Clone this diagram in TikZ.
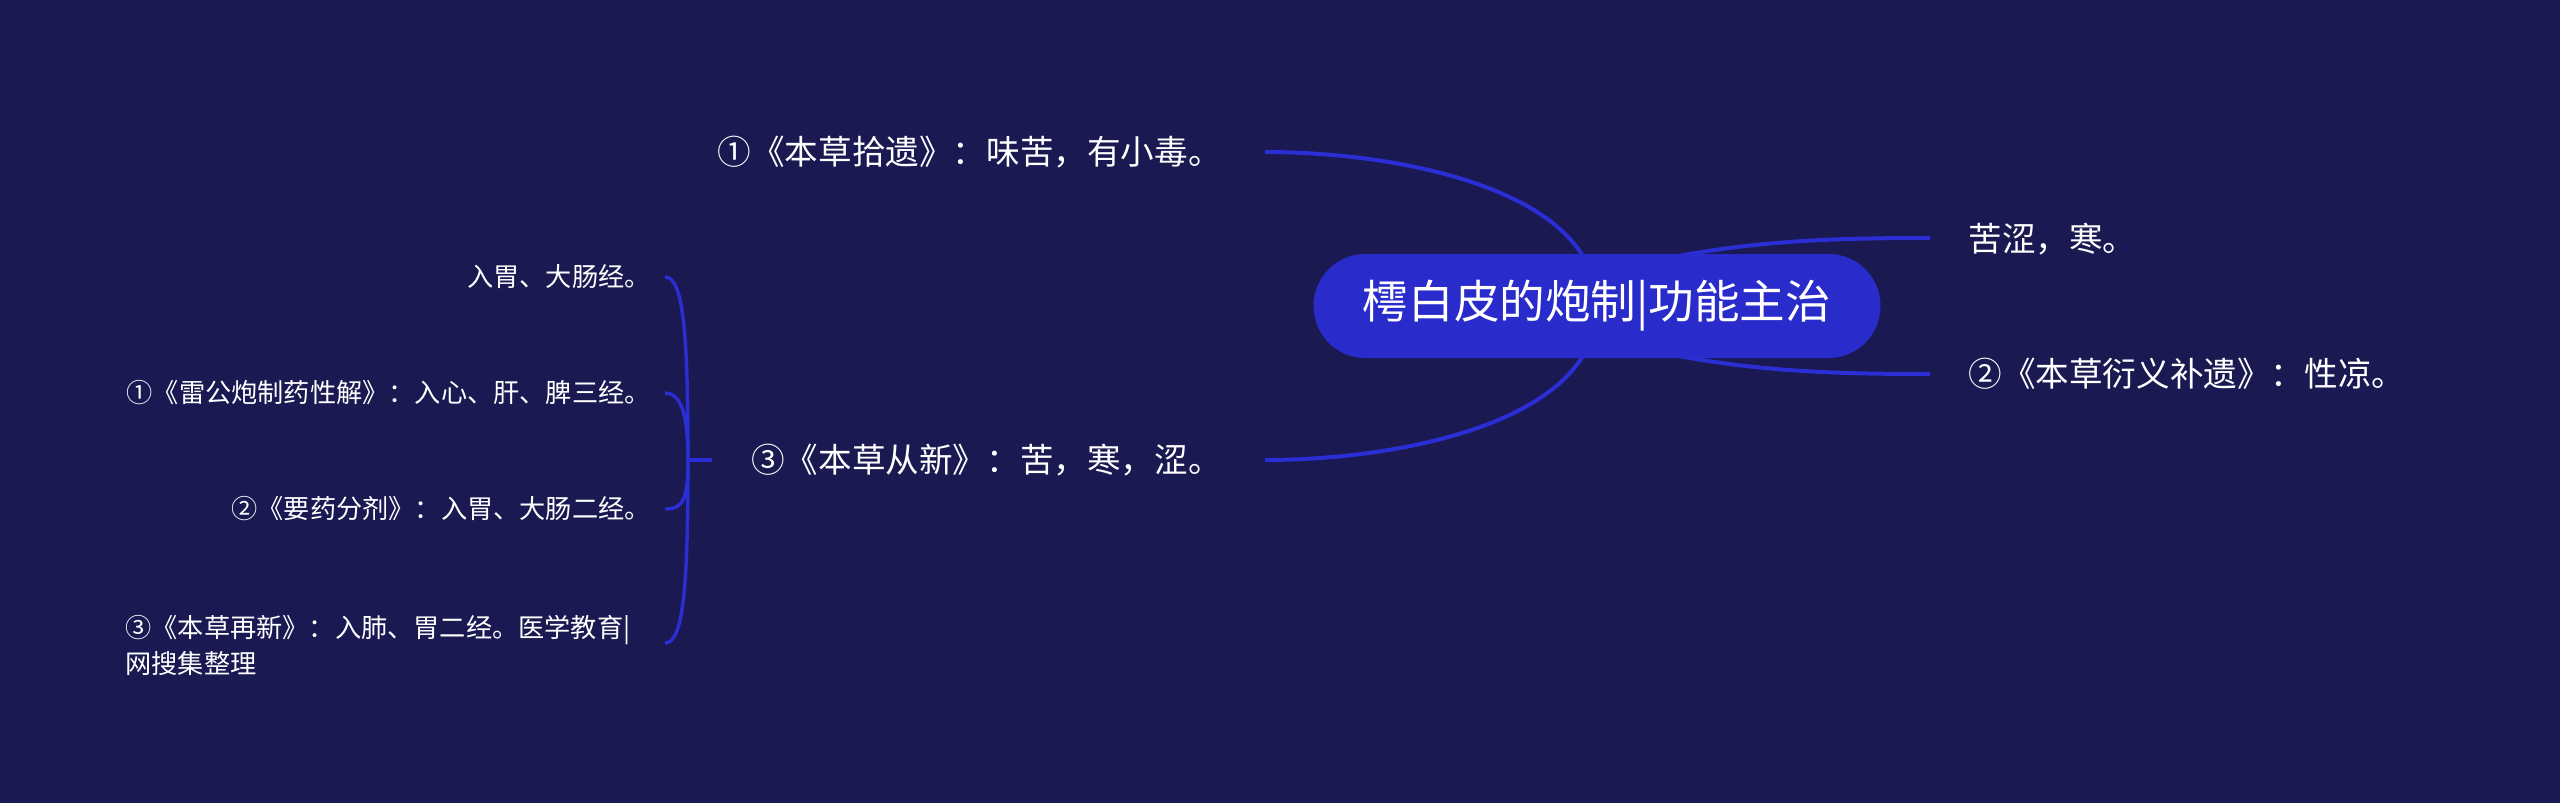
\documentclass[tikz,border=0pt]{standalone}
\usepackage{fontspec}
\setmainfont{Noto Sans CJK SC}
\usetikzlibrary{calc}
\definecolor{bgc}{HTML}{1A1952}
\definecolor{nodefill}{HTML}{2A2BCB}
\definecolor{linec}{HTML}{2B2ED4}
\pgfdeclarelayer{back}
\pgfdeclarelayer{mid}
\pgfsetlayers{back,mid,main}
\begin{document}
\begin{tikzpicture}[x=0.5pt,y=-0.5pt,
  conn/.style={draw=linec,line width=2pt},
  brk/.style={draw=linec,line width=1.7pt},
  rootbox/.style={fill=nodefill,rounded corners=25.9pt,minimum width=283.5pt,minimum height=52pt,text=white,font=\fontsize{22.8pt}{26pt}\selectfont,inner sep=0pt},
  midtext/.style={text=white,font=\fontsize{16.8pt}{20pt}\selectfont,inner sep=0pt},
  smalltext/.style={text=white,font=\fontsize{13.1pt}{18pt}\selectfont,inner sep=0pt,align=left},
]
\begin{pgfonlayer}{back}
\fill[bgc] (0,0) rectangle (2560,803);
\end{pgfonlayer}
\useasboundingbox (0,0) rectangle (2560,803);

% nodes
\node[rootbox] (root) at (1597,306) {樗白皮的炮制|功能主治};
\node[midtext,anchor=west] (r1) at (1968,239) {苦涩，寒。};
\node[midtext,anchor=west] (r2) at (1968,374) {②《本草衍义补遗》：性凉。};
\node[midtext,anchor=east] (l1) at (1222,152) {①《本草拾遗》：味苦，有小毒。};
\node[midtext,anchor=east] (l2) at (1222,460) {③《本草从新》：苦，寒，涩。};
\node[smalltext,anchor=east] (s1) at (651,277) {入胃、大肠经。};
\node[smalltext,anchor=east] (s2) at (651,393) {①《雷公炮制药性解》：入心、肝、脾三经。};
\node[smalltext,anchor=east] (s3) at (651,509) {②《要药分剂》：入胃、大肠二经。};
\node[smalltext,anchor=west] (s4) at (125,645) {③《本草再新》：入肺、胃二经。医学教育|\\网搜集整理};

% connector end points
\coordinate (ru) at (1668,258);
\coordinate (rd) at (1668,354);
\coordinate (r1e) at (1930,238);
\coordinate (r2e) at (1930,374);
\coordinate (l1e) at (1265,152);
\coordinate (l2e) at (1265,460);
\coordinate (j) at (688,460);
\coordinate (stub) at (712,460);
\coordinate (s1e) at (665,277);
\coordinate (s2e) at (665,393);
\coordinate (s3e) at (665,509);
\coordinate (s4e) at (665,643);

\begin{pgfonlayer}{mid}
\draw[conn] (ru) .. controls (1760,240) and (1840,238) .. (r1e);
\draw[conn] (rd) .. controls (1760,372) and (1840,374) .. (r2e);
\draw[conn] (root.center) .. controls (1597,190) and (1400,152) .. (l1e);
\draw[conn] (root.center) .. controls (1597,422) and (1400,460) .. (l2e);
\draw[brk] (j) -- (stub);
\draw[brk] (j) .. controls (688,330) and (683,277) .. (s1e);
\draw[brk] (j) .. controls (688,420) and (683,393) .. (s2e);
\draw[brk] (j) .. controls (688,500) and (683,509) .. (s3e);
\draw[brk] (j) .. controls (688,590) and (683,643) .. (s4e);
\end{pgfonlayer}
\end{tikzpicture}
\end{document}
